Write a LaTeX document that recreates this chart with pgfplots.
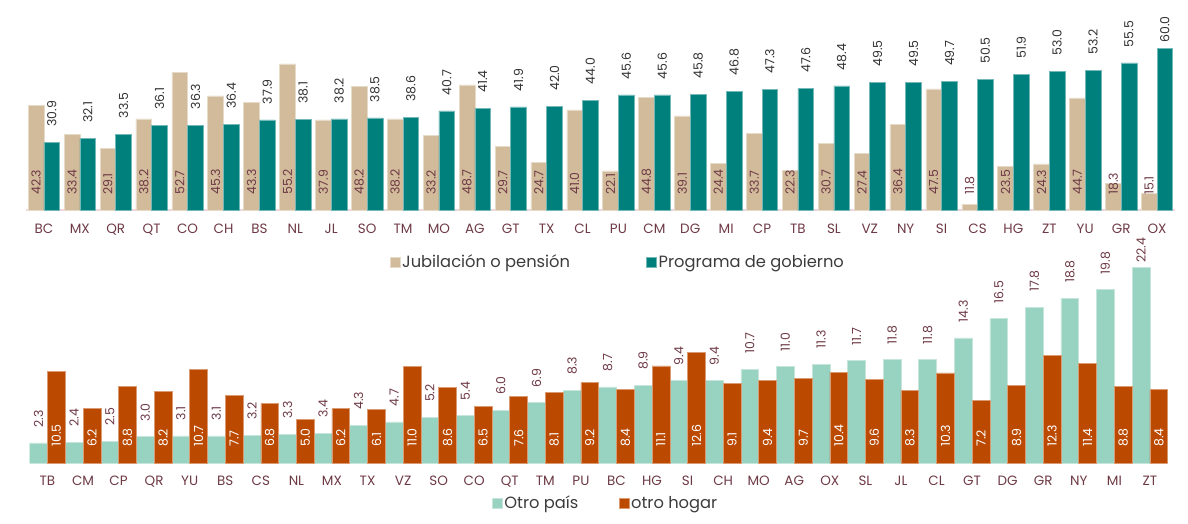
\documentclass[border=0pt]{standalone}
\usepackage{pgfplots}
\pgfplotsset{compat=1.18}
\usepackage{pgfplotstable}
\usepackage{fontspec}
\setmainfont{Poppins}

\definecolor{tanc}{RGB}{210,187,155}
\definecolor{tealc}{RGB}{0,128,125}
\definecolor{mintc}{RGB}{152,210,192}
\definecolor{rustc}{RGB}{187,74,0}
\definecolor{maroon}{RGB}{110,58,70}
\definecolor{basec}{RGB}{240,215,220}
\definecolor{legtxt}{RGB}{60,60,60}

\newcommand\valfont{\fontsize{12.5}{14}\selectfont}
\newcommand\tickfont{\fontsize{13.5}{15}\selectfont}
\newcommand\legfont{\fontsize{16.3}{18}\selectfont}

% top panel: Jubilación o pensión / Programa de gobierno
\pgfplotstableread{
x st jub prog
0 BC 42.3 30.9
1 MX 33.4 32.1
2 QR 29.1 33.5
3 QT 38.2 36.1
4 CO 52.7 36.3
5 CH 45.3 36.4
6 BS 43.3 37.9
7 NL 55.2 38.1
8 JL 37.9 38.2
9 SO 48.2 38.5
10 TM 38.2 38.6
11 MO 33.2 40.7
12 AG 48.7 41.4
13 GT 29.7 41.9
14 TX 24.7 42.0
15 CL 41.0 44.0
16 PU 22.1 45.6
17 CM 44.8 45.6
18 DG 39.1 45.8
19 MI 24.4 46.8
20 CP 33.7 47.3
21 TB 22.3 47.6
22 SL 30.7 48.4
23 VZ 27.4 49.5
24 NY 36.4 49.5
25 SI 47.5 49.7
26 CS 11.8 50.5
27 HG 23.5 51.9
28 ZT 24.3 53.0
29 YU 44.7 53.2
30 GR 18.3 55.5
31 OX 15.1 60.0
}\topdata

% bottom panel: Otro país / otro hogar
\pgfplotstableread{
x st pais hogar
0 TB 2.3 10.5
1 CM 2.4 6.2
2 CP 2.5 8.8
3 QR 3.0 8.2
4 YU 3.1 10.7
5 BS 3.1 7.7
6 CS 3.2 6.8
7 NL 3.3 5.0
8 MX 3.4 6.2
9 TX 4.3 6.1
10 VZ 4.7 11.0
11 SO 5.2 8.6
12 CO 5.4 6.5
13 QT 6.0 7.6
14 TM 6.9 8.1
15 PU 8.3 9.2
16 BC 8.7 8.4
17 HG 8.9 11.1
18 SI 9.4 12.6
19 CH 9.4 9.1
20 MO 10.7 9.4
21 AG 11.0 9.7
22 OX 11.3 10.4
23 SL 11.7 9.6
24 JL 11.8 8.3
25 CL 11.8 10.3
26 GT 14.3 7.2
27 DG 16.5 8.9
28 GR 17.8 12.3
29 NY 18.8 11.4
30 MI 19.8 8.8
31 ZT 22.4 8.4
}\botdata

\pgfplotsset{
  panel/.style={
    scale only axis, clip mode=individual,
    axis x line*=bottom, axis y line=none,
    x axis line style={basec, line width=1.5pt},
    xtick=data, major tick length=0pt,
    xmin=-0.5, xmax=31.5,
    xticklabel style={font=\tickfont, text=maroon, anchor=base, inner sep=0pt},
    ybar=0pt,
    /pgf/number format/assume math mode=true,
    nodes near coords={\pgfmathprintnumber[fixed,fixed zerofill,precision=1]{\pgfplotspointmeta}},
    visualization depends on={y \as \rawy},
    legend columns=2,
    legend image code/.code={\fill[##1] (0pt,-5pt) rectangle (10pt,5pt);},
  },
}

\begin{document}
\begin{tikzpicture}
\useasboundingbox (0,0) rectangle (1188pt,523pt);

\begin{axis}[
    panel,
    at={(26pt,313pt)}, anchor=south west,
    width=1149pt, height=210pt,
    ymin=10, ymax=75,
    bar width=15.7pt,
    xticklabels from table={\topdata}{st},
    xticklabel style={yshift=-23pt},
    legend style={draw=none, fill=none, font=\legfont, text=legtxt,
        at={(0.515,-0.248)}, anchor=center,
        nodes={inner xsep=2pt},
        /tikz/every even column/.style={column sep=74pt}},
]
\addplot[fill=tanc, draw=tanc!55!white, line width=0.6pt,
    every node near coord/.append style={shift={(axis direction cs:0,{14.64-\rawy})},
        rotate=90, anchor=west, inner sep=0pt, font=\valfont, text=maroon}]
    table[x=x, y=jub] {\topdata};
\addlegendentry{Jubilación o pensión}
\addplot[fill=tealc, draw=tealc!55!white, line width=0.6pt,
    every node near coord/.append style={shift={(axis direction cs:0,{min(\rawy+4.8,61.7)-\rawy})},
        rotate=90, anchor=west, inner sep=0pt, font=\valfont, text=black!80}]
    table[x=x, y=prog] {\topdata};
\addlegendentry{Programa de gobierno}
\end{axis}

\begin{axis}[
    panel,
    at={(29.7pt,60pt)}, anchor=south west,
    width=1138pt, height=218.75pt,
    ymin=0, ymax=25,
    bar width=17.8pt,
    xticklabels from table={\botdata}{st},
    xticklabel style={yshift=-22pt},
    legend style={draw=none, fill=none, font=\legfont, text=legtxt,
        at={(0.506,-0.183)}, anchor=center,
        nodes={inner xsep=2pt},
        /tikz/every even column/.style={column sep=38pt}},
]
\addplot[fill=mintc, draw=mintc!55!white, line width=0.6pt,
    every node near coord/.append style={shift={(axis direction cs:0,{min(\rawy+1.75,22.86)-\rawy})},
        rotate=90, anchor=west, inner sep=0pt, font=\valfont, text=maroon}]
    table[x=x, y=pais] {\botdata};
\addlegendentry{Otro país}
\addplot[fill=rustc, draw=rustc!55!white, line width=0.6pt,
    every node near coord/.append style={shift={(axis direction cs:0,{1.83-\rawy})},
        rotate=90, anchor=west, inner sep=0pt, font=\valfont, text=white}]
    table[x=x, y=hogar] {\botdata};
\addlegendentry{otro hogar}
\end{axis}

\end{tikzpicture}
\end{document}
